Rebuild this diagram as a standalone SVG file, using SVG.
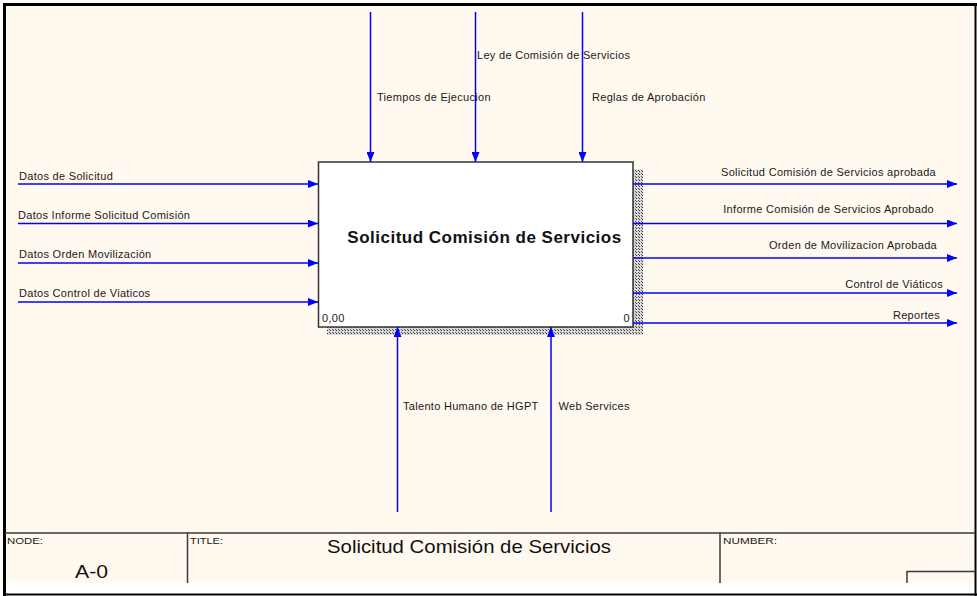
<svg xmlns="http://www.w3.org/2000/svg" width="977" height="596" viewBox="0 0 977 596">
  <style>
    .lbl { font-family: "Liberation Sans", Arial, sans-serif; font-size: 11px; letter-spacing: 0.3px; fill: #1a1a1a; }
    .end { text-anchor: end; }
    .flow { stroke: #0000ff; stroke-width: 1.5; fill: none; marker-end: url(#arrow); }
    .frame { stroke: #000; fill: none; }
    .tb { stroke: #3a3a3a; stroke-width: 1.5; fill: none; }
    .tbl { font-family: "Liberation Sans", Arial, sans-serif; font-size: 9px; fill: #1a1a1a; }
    .tbv { font-family: "Liberation Sans", Arial, sans-serif; font-size: 19px; fill: #111; }
  </style>
  <defs>
    <marker id="arrow" viewBox="0 0 10 8" refX="10" refY="4" markerWidth="10" markerHeight="8" markerUnits="userSpaceOnUse" orient="auto">
      <path d="M0,0 L10,4 L0,8 Z" fill="#0000ff"/>
    </marker>
    <pattern id="hatch" width="3" height="3" patternUnits="userSpaceOnUse">
      <rect width="3" height="3" fill="#d8d8d8"/>
      <rect width="1" height="1" fill="#333"/>
      <rect x="2" y="2" width="1" height="1" fill="#555"/>
    </pattern>
  </defs>

  <!-- sheet -->
  <rect x="0" y="0" width="977" height="596" fill="#ffffff"/>
  <rect x="5" y="5" width="970" height="578" fill="#fff9ef"/>
  <line class="frame" x1="3" y1="4.5" x2="977" y2="4.5" stroke-width="3"/>
  <line class="frame" x1="4.5" y1="3" x2="4.5" y2="596" stroke-width="3"/>
  <line class="frame" x1="975.5" y1="3" x2="975.5" y2="596" stroke-width="2"/>
  <line class="frame" x1="3" y1="594.5" x2="977" y2="594.5" stroke-width="2"/>

  <!-- activity box -->
  <g id="activity-A0">
    <rect x="327" y="169" width="316" height="166" fill="url(#hatch)"/>
    <rect x="318.5" y="162" width="314.5" height="165" fill="#ffffff" stroke="#333" stroke-width="1.5"/>
    <text x="484.5" y="243" text-anchor="middle" font-family="Liberation Sans, Arial, sans-serif" font-size="17" letter-spacing="0.5" font-weight="bold" fill="#111">Solicitud Comisión de Servicios</text>
    <text x="322" y="322" class="lbl" font-size="10">0,00</text>
    <text x="630" y="322" class="lbl end" font-size="10">0</text>
  </g>

  <!-- connectors -->
  <g id="connectors">
    <!-- inputs -->
    <line class="flow" x1="18" y1="184" x2="318" y2="184"/>
    <line class="flow" x1="18" y1="223.5" x2="318" y2="223.5"/>
    <line class="flow" x1="18" y1="263" x2="318" y2="263"/>
    <line class="flow" x1="18" y1="302" x2="318" y2="302"/>
    <!-- outputs -->
    <line class="flow" x1="633" y1="184" x2="957" y2="184"/>
    <line class="flow" x1="633" y1="223.5" x2="957" y2="223.5"/>
    <line class="flow" x1="633" y1="258" x2="957" y2="258"/>
    <line class="flow" x1="633" y1="293" x2="957" y2="293"/>
    <line class="flow" x1="633" y1="323" x2="957" y2="323"/>
    <!-- controls -->
    <line class="flow" x1="370.5" y1="12" x2="370.5" y2="162"/>
    <line class="flow" x1="475.5" y1="12" x2="475.5" y2="162"/>
    <line class="flow" x1="582.5" y1="12" x2="582.5" y2="162"/>
    <!-- mechanisms -->
    <line class="flow" x1="397.5" y1="512" x2="397.5" y2="327"/>
    <line class="flow" x1="551" y1="512" x2="551" y2="327"/>

    <!-- labels -->
    <text class="lbl" x="19" y="180">Datos de Solicitud</text>
    <text class="lbl" x="18" y="219">Datos Informe Solicitud Comisión</text>
    <text class="lbl" x="19" y="258">Datos Orden Movilización</text>
    <text class="lbl" x="19" y="297">Datos Control de Viaticos</text>

    <text class="lbl end" x="936" y="176">Solicitud Comisión de Servicios aprobada</text>
    <text class="lbl end" x="934" y="213">Informe Comisión de Servicios Aprobado</text>
    <text class="lbl end" x="937" y="249">Orden de Movilizacion Aprobada</text>
    <text class="lbl end" x="943" y="288">Control de Viáticos</text>
    <text class="lbl end" x="940" y="319">Reportes</text>

    <text class="lbl" x="477" y="59">Ley de Comisión de Servicios</text>
    <text class="lbl" x="377" y="101">Tiempos de Ejecucion</text>
    <text class="lbl" x="592" y="101">Reglas de Aprobación</text>

    <text class="lbl" x="403" y="410">Talento Humano de HGPT</text>
    <text class="lbl" x="558.5" y="410">Web Services</text>
  </g>

  <!-- title block -->
  <g id="title-block">
    <line class="tb" x1="5" y1="533" x2="975" y2="533"/>
    <line class="tb" x1="187.5" y1="533" x2="187.5" y2="583"/>
    <line class="tb" x1="720" y1="533" x2="720" y2="583"/>
    <polyline class="tb" points="907,583 907,571.5 975,571.5"/>
    <text class="tbl" x="7" y="544" textLength="36" lengthAdjust="spacingAndGlyphs">NODE:</text>
    <text class="tbl" x="190" y="544" textLength="33" lengthAdjust="spacingAndGlyphs">TITLE:</text>
    <text class="tbl" x="723" y="544" textLength="54" lengthAdjust="spacingAndGlyphs">NUMBER:</text>
    <text class="tbv" x="327" y="553" textLength="284" lengthAdjust="spacingAndGlyphs">Solicitud Comisión de Servicios</text>
    <text class="tbv" x="75" y="578" textLength="33" lengthAdjust="spacingAndGlyphs">A-0</text>
  </g>
</svg>
